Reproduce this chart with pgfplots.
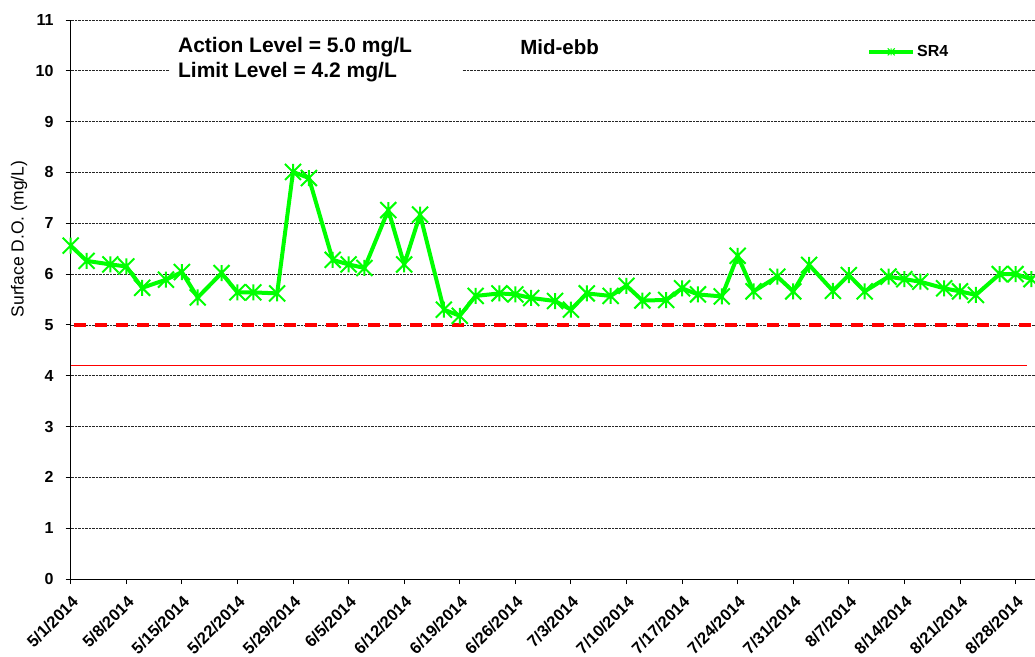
\documentclass[border=0pt]{standalone}
\usepackage{pgfplots}
\pgfplotsset{compat=1.18}
\usepackage{fontspec}
\setmainfont{Liberation Sans}
\definecolor{sgreen}{RGB}{0,255,0}
\pgfdeclareplotmark{xstar}{%
  \pgfpathmoveto{\pgfqpoint{-\pgfplotmarksize}{-\pgfplotmarksize}}%
  \pgfpathlineto{\pgfqpoint{\pgfplotmarksize}{\pgfplotmarksize}}%
  \pgfpathmoveto{\pgfqpoint{-\pgfplotmarksize}{\pgfplotmarksize}}%
  \pgfpathlineto{\pgfqpoint{\pgfplotmarksize}{-\pgfplotmarksize}}%
  \pgfpathmoveto{\pgfqpoint{0pt}{-\pgfplotmarksize}}%
  \pgfpathlineto{\pgfqpoint{0pt}{\pgfplotmarksize}}%
  \pgfusepathqstroke}
\pgfplotstableread{
day value
0 6.56
2 6.26
5 6.19
7 6.15
9 5.73
12 5.89
14 6.04
16 5.54
19 6.02
21 5.64
23 5.64
26 5.62
28 8.01
30 7.89
33 6.28
35 6.19
37 6.12
40 7.26
42 6.19
44 7.17
47 5.30
49 5.18
51 5.57
54 5.62
56 5.60
58 5.53
61 5.47
63 5.30
65 5.62
68 5.57
70 5.77
72 5.48
75 5.49
77 5.72
79 5.60
82 5.56
84 6.36
86 5.66
89 5.95
91 5.66
93 6.18
96 5.67
98 5.98
100 5.66
103 5.95
105 5.90
107 5.85
110 5.72
112 5.66
114 5.59
117 6.00
119 6.00
121 5.90
}\srfour
\begin{document}
\begin{tikzpicture}
\path[use as bounding box, clip] (-70.7bp,-78bp) rectangle (964.3bp,579bp);
\begin{axis}[
  at={(0,0)}, anchor=south west,
  scale only axis, width=964.3bp, height=559bp,
  xmin=0, xmax=121.45, ymin=0, ymax=11,
  clip=false,
  axis x line=bottom, axis y line=left,
  axis line style={-, black, line width=0.9bp},
  xtick={0,7,...,119},
  xticklabels={5/1/2014,5/8/2014,5/15/2014,5/22/2014,5/29/2014,6/5/2014,6/12/2014,6/19/2014,6/26/2014,7/3/2014,7/10/2014,7/17/2014,7/24/2014,7/31/2014,8/7/2014,8/14/2014,8/21/2014,8/28/2014},
  ytick={0,...,11},
  tick align=outside, major tick length=5bp,
  tick style={black, line width=0.9bp},
  ymajorgrids,
  major grid style={black!85, densely dotted, line width=0.8bp},
  /pgf/number format/assume math mode=true,
  ticklabel style={font=\bfseries\fontsize{16bp}{19bp}\selectfont},
  xticklabel style={rotate=45, anchor=north east, inner sep=0pt, xshift=-7.3bp, yshift=-7.4bp,
    font=\bfseries\fontsize{16.5bp}{19bp}\selectfont},
  yticklabel style={anchor=east, inner sep=0pt, xshift=-12bp},
  legend style={at={(rel axis cs:0.826,0.943)}, anchor=west, draw=none, fill=none,
    inner sep=0pt, outer sep=0pt, nodes={inner sep=2bp},
    font=\bfseries\fontsize{16bp}{19bp}\selectfont},
  legend image code/.code={%
    \draw[#1, mark=none, line width=4bp] (0bp,0bp) -- (44bp,0bp);
    \draw[#1, mark size=3.5bp, mark options={line width=1bp}] plot coordinates {(22bp,0bp)};},
]
\addplot[red, line width=3.5bp, dash pattern=on 12bp off 9bp, forget plot] coordinates {(0.4,5) (121.45,5)};
\addplot[red, line width=1.5bp, forget plot] coordinates {(0,4.2) (120.4,4.2)};
\addplot[sgreen, line width=4bp, line join=round, mark=xstar, mark size=8bp, mark options={line width=2bp, solid}] table[x=day, y=value] {\srfour};
\addlegendentry{SR4}
\fill[white] (axis cs:12.5,9.72) rectangle (axis cs:49.3,10.8);
\node[anchor=base west, inner sep=0pt, font=\bfseries\fontsize{21bp}{24bp}\selectfont] at (axis cs:13.5,10.368) {Action Level = 5.0 mg/L};
\node[anchor=base west, inner sep=0pt, font=\bfseries\fontsize{21bp}{24bp}\selectfont] at (axis cs:13.5,9.876) {Limit Level = 4.2 mg/L};
\node[anchor=base west, inner sep=0pt, font=\bfseries\fontsize{20.5bp}{24bp}\selectfont] at (axis cs:56.6,10.315) {Mid-ebb};
\node[rotate=90, inner sep=0pt, font=\fontsize{17.5bp}{21bp}\selectfont] at (axis cs:-6.51,6.69) {Surface D.O. (mg/L)};
\end{axis}
\end{tikzpicture}
\end{document}
